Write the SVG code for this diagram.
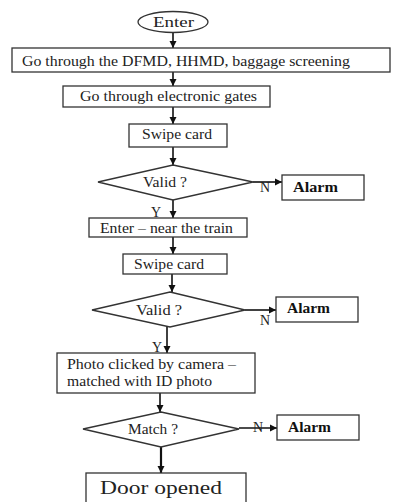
<svg xmlns="http://www.w3.org/2000/svg" width="400" height="502" viewBox="0 0 400 502">
<defs>
<marker id="ah" markerWidth="8" markerHeight="8" refX="7" refY="4" orient="auto" markerUnits="userSpaceOnUse">
<path d="M0,0.5 L7,4 L0,7.5 Z" fill="#111"/>
</marker>
</defs>
<style>
.box{fill:#fff;stroke:#333;stroke-width:1.3}
.t{font-family:"Liberation Serif","Times New Roman",serif;font-size:14px;fill:#222}
.b{font-family:"Liberation Serif","Times New Roman",serif;font-size:14px;font-weight:bold;fill:#111}
.c{stroke:#111;stroke-width:1.6;fill:none;marker-end:url(#ah)}
</style>
<rect width="400" height="502" fill="#fff"/>
<g id="connectors">
<line class="c" x1="173" y1="33" x2="173" y2="48"/>
<line class="c" x1="173" y1="72" x2="173" y2="86"/>
<line class="c" x1="173" y1="107" x2="173" y2="124"/>
<line class="c" x1="173" y1="147" x2="173" y2="165"/>
<line class="c" x1="253" y1="182" x2="282" y2="182"/>
<line class="c" x1="173" y1="200" x2="173" y2="218"/>
<line class="c" x1="173" y1="237" x2="173" y2="254"/>
<line class="c" x1="172" y1="274" x2="172" y2="292"/>
<line class="c" x1="245" y1="310" x2="276" y2="310"/>
<line class="c" x1="167" y1="327" x2="167" y2="353"/>
<line class="c" x1="160" y1="393" x2="160" y2="412"/>
<line class="c" x1="239" y1="428" x2="277" y2="428"/>
<line class="c" x1="161" y1="447" x2="161" y2="473" style="stroke-width:2.2"/>
</g>
<g id="enter"><ellipse class="box" cx="173" cy="22" rx="35" ry="10.5"/><text class="t" x="153" y="27" textLength="41" lengthAdjust="spacingAndGlyphs">Enter</text></g>
<g id="screening"><rect class="box" x="12" y="48" width="378" height="24"/><text class="t" x="22" y="66" textLength="328" lengthAdjust="spacingAndGlyphs">Go through the DFMD, HHMD, baggage screening</text></g>
<g id="gates"><rect class="box" x="63" y="86" width="207" height="21"/><text class="t" x="80" y="101" textLength="177" lengthAdjust="spacingAndGlyphs">Go through electronic gates</text></g>
<g id="swipe1"><rect class="box" x="129" y="124" width="98" height="23"/><text class="t" x="142" y="139" textLength="70" lengthAdjust="spacingAndGlyphs">Swipe card</text></g>
<g id="valid1"><polygon class="box" points="173,165 253,182 173,200 98,182"/><text class="t" x="143" y="187" textLength="44" lengthAdjust="spacingAndGlyphs">Valid ?</text></g>
<g id="alarm1"><rect class="box" x="282" y="175" width="82" height="25"/><text class="b" x="293" y="192" textLength="45" lengthAdjust="spacingAndGlyphs">Alarm</text></g>
<text class="t" x="260" y="192">N</text>
<text class="t" x="151" y="217">Y</text>
<g id="near-train"><rect class="box" x="89" y="218" width="158" height="19"/><text class="t" x="100" y="233" textLength="133" lengthAdjust="spacingAndGlyphs">Enter – near the train</text></g>
<g id="swipe2"><rect class="box" x="123" y="254" width="104" height="20"/><text class="t" x="134" y="269" textLength="70" lengthAdjust="spacingAndGlyphs">Swipe card</text></g>
<g id="valid2"><polygon class="box" points="170,292 245,310 170,327 92,310"/><text class="t" x="136" y="315" textLength="46" lengthAdjust="spacingAndGlyphs">Valid ?</text></g>
<g id="alarm2"><rect class="box" x="276" y="297" width="82" height="25"/><text class="b" x="287" y="313" textLength="43" lengthAdjust="spacingAndGlyphs">Alarm</text></g>
<text class="t" x="260" y="325">N</text>
<text class="t" x="152" y="352">Y</text>
<g id="photo"><rect class="box" x="57" y="353" width="198" height="40"/><text class="t" x="67" y="369" textLength="169" lengthAdjust="spacingAndGlyphs">Photo clicked by camera –</text><text class="t" x="67" y="386" textLength="145" lengthAdjust="spacingAndGlyphs">matched with ID photo</text></g>
<g id="match"><polygon class="box" points="161,412 239,429 161,447 83,429"/><text class="t" x="128" y="434" textLength="50" lengthAdjust="spacingAndGlyphs">Match ?</text></g>
<g id="alarm3"><rect class="box" x="277" y="415" width="82" height="25"/><text class="b" x="288" y="432" textLength="43" lengthAdjust="spacingAndGlyphs">Alarm</text></g>
<text class="t" x="253" y="432">N</text>
<g id="door"><rect class="box" x="86" y="473" width="160" height="30"/><text class="t" x="100" y="494" textLength="122" lengthAdjust="spacingAndGlyphs" style="font-size:18px">Door opened</text></g>
</svg>
